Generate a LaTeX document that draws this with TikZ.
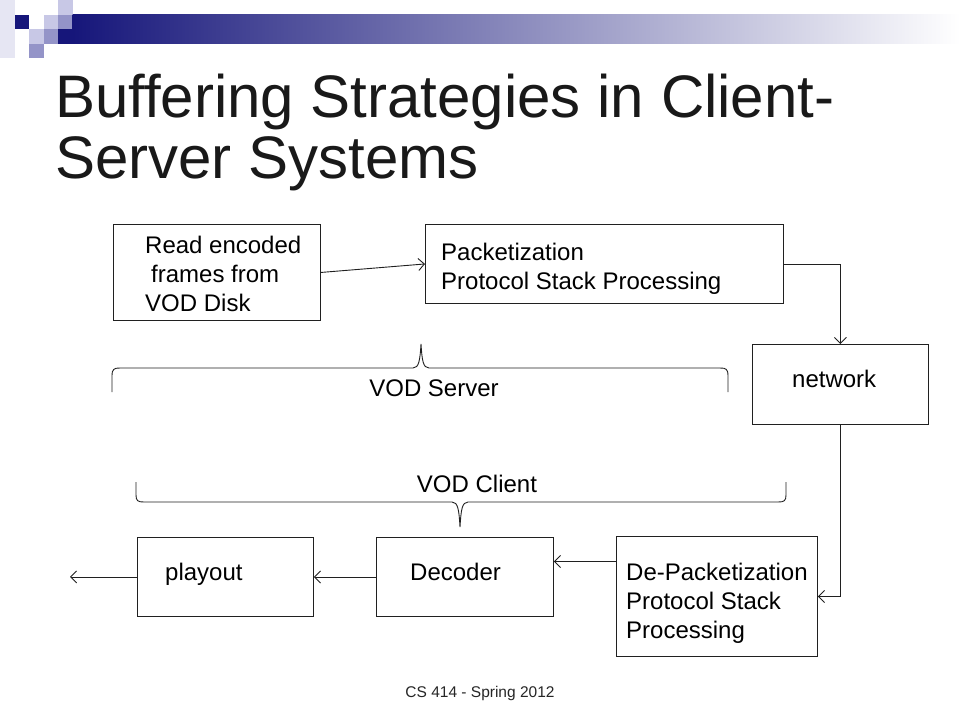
\documentclass[tikz,border=0pt]{standalone}
\usepackage{fontspec}
\setmainfont{Liberation Sans}
\usepackage{xcolor}
\usepackage{tikz}
\usetikzlibrary{arrows.meta, positioning, calc}

\definecolor{sqnavy}{HTML}{16167A}
\definecolor{sqlight}{HTML}{C8C8E6}
\definecolor{sqmed}{HTML}{9494C8}
\definecolor{sqfaint}{HTML}{E6E6F3}
\definecolor{barmid}{HTML}{A8A9C0}
\definecolor{linegray}{HTML}{202020}

\tikzset{
  blk/.style={draw=linegray, line width=0.9pt, inner sep=0pt, anchor=north west},
  lbl/.style={inner sep=0pt, anchor=base west, align=left,
    font=\fontsize{24}{29}\selectfont},
  conn/.style={draw=linegray, line width=0.9pt,
    -{Straight Barb[length=6pt,width=12pt]}},
  brc/.style={draw=linegray, line width=0.9pt},
}

\begin{document}
\begin{tikzpicture}[x=1pt,y=-1pt]
    \fill[white] (0,0) rectangle (960,720);
    \useasboundingbox (0,0) rectangle (960,720);

    % header squares and bar
    \fill[sqfaint] (0,0) rectangle (14.5,58);
    \foreach \c/\r/\col in {1/1/sqnavy, 2/2/sqlight, 3/1/sqlight, 3/2/sqmed,
                            4/0/sqlight, 4/1/sqmed, 4/2/sqnavy, 2/3/sqmed}
      \fill[\col] (\c*14.5,\r*14.5) rectangle ++(14.5,14.5);
    \shade[left color=sqnavy, middle color=barmid, right color=white]
      (72.5,14.5) rectangle (960,43.5);

    % title (base = last line)
    \node[inner sep=0pt, anchor=base west, align=left, text=black!90,
      font=\fontsize{60}{61}\selectfont] (title) at (55,178)
      {Buffering Strategies in Client-\\Server Systems};

    % server side
    \node[blk, minimum width=207pt, minimum height=96pt] (read) at (113,224) {};
    \node[lbl] (readtxt) at ([xshift=32pt,yshift=-87pt]read.north west)
      {Read encoded\\\hspace{6pt}frames from\\VOD Disk};

    \node[blk, minimum width=358pt, minimum height=79pt] (pack) at (425,224) {};
    \node[lbl] (packtxt) at ([xshift=16pt,yshift=-65pt]pack.north west)
      {Packetization\\Protocol Stack Processing};

    \node[blk, minimum width=176pt, minimum height=80pt] (network) at (752,344) {};
    \node[lbl] (nettxt) at ([xshift=40pt,yshift=-43pt]network.north west) {network};

    % client side
    \node[blk, minimum width=201pt, minimum height=120pt] (depack) at (616,536) {};
    \node[lbl] (depacktxt) at ([xshift=10pt,yshift=-102pt]depack.north west)
      {De-Packetization\\Protocol Stack\\Processing};

    \node[blk, minimum width=177pt, minimum height=79pt] (decoder) at (376,537) {};
    \node[lbl] (dectxt) at ([xshift=34pt,yshift=-43pt]decoder.north west) {Decoder};

    \node[blk, minimum width=176pt, minimum height=79pt] (playout) at (137,537) {};
    \node[lbl] (playtxt) at ([xshift=28pt,yshift=-43pt]playout.north west) {playout};

    % connectors
    \draw[conn] (read.east) -- (pack.west);
    \draw[conn] (pack.east) -| (network.north);
    \draw[conn] (network.south) |- (depack.east);
    \coordinate (d1) at ([yshift=35pt]depack.west);
    \draw[conn] (d1) -- (d1 -| decoder.east);
    \draw[conn] (decoder.west) -- (playout.east);
    \coordinate (out) at ([xshift=-67pt]playout.west);
    \draw[conn] (playout.west) -- (out);

    % braces
    \draw[brc] (112,392) -- (112,376) .. controls (112,369) and (114,368) .. (120,368)
      -- (413,368) .. controls (419,368) and (420,360) .. (421,344)
      .. controls (422,360) and (423,368) .. (429,368)
      -- (720,368) .. controls (726,368) and (728,369) .. (728,376) -- (728,392);
    \node[lbl, anchor=base] (srvtxt) at (434,396) {VOD Server};

    \draw[brc] (136,482) -- (136,495) .. controls (136,501) and (138,502) .. (144,502)
      -- (452,502) .. controls (458,502) and (459,510) .. (460,527)
      .. controls (461,510) and (462,502) .. (468,502)
      -- (778,502) .. controls (784,502) and (786,501) .. (786,495) -- (786,482);
    \node[lbl, anchor=base] (clitxt) at (477,492) {VOD Client};

    % footer
    \node[inner sep=0pt, anchor=base, font=\fontsize{15.5}{18}\selectfont,
      text=black!85] (foot) at (480,697) {CS 414 - Spring 2012};
\end{tikzpicture}
\end{document}
